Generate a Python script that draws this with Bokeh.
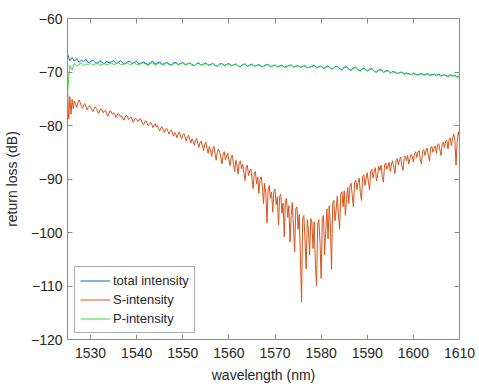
from bokeh.plotting import figure
from bokeh.models import LinearAxis, Range1d, FixedTicker, Legend, LegendItem
from bokeh.embed import file_html
from bokeh.resources import INLINE

# wavelength grid (nm), 0.5 nm steps from 1525 to 1610 (total / P)
wavelength = [1525.0 + 0.5 * i for i in range(171)]
# finer grid (0.25 nm) for the noisier S trace
wavelength_s = [1525.0 + 0.25 * i for i in range(341)]

s_intensity = [
    -73.2, -78.8, -74.6, -77.9, -75.1, -76.9, -75.4, -75.9, -76.6, -75.8, -75.2, -75.7, -76.4, -76.8, -76.1, -75.9, -76.5, -77.1, -76.6, -76.3,
    -76.5, -77.0, -77.4, -76.9, -76.5, -76.8, -77.3, -77.8, -77.2, -76.9, -77.0, -77.6, -77.3, -77.1, -77.8, -78.3, -77.7, -77.2, -77.5, -77.9,
    -77.6, -77.9, -78.5, -78.1, -77.7, -77.9, -78.4, -78.2, -78.6, -79.0, -78.4, -78.1, -78.3, -78.9, -78.7, -78.4, -78.8, -79.4, -79.0, -78.6,
    -78.8, -79.3, -79.1, -78.7, -79.0, -79.6, -79.9, -79.3, -79.1, -79.5, -80.1, -79.8, -79.4, -79.7, -80.4, -80.0, -79.7, -80.3, -80.0, -80.6,
    -81.0, -80.4, -80.2, -80.8, -81.3, -80.7, -80.5, -81.0, -81.6, -81.1, -80.8, -81.4, -82.0, -81.3, -81.7, -82.3, -81.6, -81.2, -81.9, -82.5,
    -81.8, -81.5, -82.2, -82.9, -82.1, -81.8, -82.6, -83.3, -82.5, -82.9, -83.7, -82.8, -82.4, -83.3, -84.1, -83.2, -82.9, -83.8, -84.7, -83.6,
    -83.1, -84.3, -85.2, -83.9, -84.6, -85.8, -84.5, -83.9, -85.3, -86.5, -84.9, -84.4, -85.1, -86.0, -87.2, -85.3, -84.9, -86.4, -85.7, -85.2,
    -86.4, -87.5, -85.9, -85.5, -87.3, -88.6, -86.5, -87.4, -89.1, -86.9, -86.6, -88.1, -87.3, -88.9, -90.3, -87.8, -87.4, -89.4, -88.5, -88.1,
    -89.9, -91.8, -88.9, -88.6, -90.9, -89.6, -92.7, -90.1, -89.6, -91.4, -94.6, -90.8, -92.6, -98.2, -92.0, -91.2, -93.6, -92.4, -96.2, -92.3,
    -91.9, -94.8, -93.3, -98.6, -93.2, -92.8, -96.4, -94.5, -100.8, -94.0, -93.6, -97.2, -95.0, -101.8, -96.8, -94.4, -99.0, -103.6, -95.6, -95.2,
    -99.4, -96.6, -104.6, -113.0, -97.2, -96.8, -101.4, -106.8, -97.6, -99.6, -104.2, -97.4, -98.2, -103.0, -98.0, -106.0, -110.0, -98.4, -97.6, -101.8,
    -108.6, -97.4, -96.8, -104.2, -99.6, -95.6, -101.2, -95.0, -98.4, -106.9, -94.6, -94.0, -97.8, -95.8, -93.2, -96.6, -99.4, -92.8, -92.4, -95.2,
    -92.2, -96.8, -93.8, -91.6, -94.6, -91.2, -90.8, -93.2, -95.2, -90.6, -90.2, -92.0, -90.6, -89.8, -92.6, -94.0, -89.6, -89.2, -91.2, -90.0,
    -88.8, -90.6, -92.0, -88.6, -88.2, -89.8, -88.6, -87.9, -90.4, -89.2, -87.6, -88.4, -87.4, -89.6, -90.6, -87.4, -87.0, -88.2, -87.6, -86.9,
    -88.6, -87.2, -86.6, -87.8, -89.0, -86.5, -86.2, -87.4, -86.4, -85.9, -87.6, -88.4, -86.0, -85.7, -86.6, -85.6, -87.2, -86.2, -85.4, -85.8,
    -86.8, -85.2, -84.9, -86.0, -85.0, -84.7, -86.4, -87.2, -84.8, -84.5, -85.6, -84.6, -84.2, -85.8, -86.6, -84.2, -83.9, -85.0, -84.2, -83.8,
    -85.2, -83.6, -83.4, -84.6, -85.6, -83.4, -83.1, -84.2, -83.0, -82.7, -84.4, -82.6, -82.3, -83.8, -82.4, -81.6, -82.8, -87.4, -83.0, -81.2,
    -82.2,
]

total_intensity = [
    -66.6, -67.9, -67.3, -68.0, -67.5, -68.2, -67.8, -68.1, -67.6, -68.3,
    -68.0, -67.8, -68.2, -68.4, -67.9, -68.2, -68.5, -68.0, -68.3, -68.1,
    -67.9, -68.4, -68.2, -67.9, -68.3, -68.5, -68.1, -68.0, -68.4, -68.2,
    -68.0, -68.5, -68.3, -68.1, -68.4, -68.6, -68.2, -68.0, -68.5, -68.3,
    -68.1, -68.6, -68.4, -68.2, -68.5, -68.7, -68.3, -68.2, -68.6, -68.4,
    -68.2, -68.6, -68.5, -68.3, -68.6, -68.8, -68.4, -68.3, -68.7, -68.5,
    -68.3, -68.7, -68.6, -68.4, -68.8, -68.9, -68.5, -68.4, -68.8, -68.6,
    -68.4, -68.8, -68.7, -68.5, -68.9, -69.0, -68.6, -68.5, -68.9, -68.7,
    -68.5, -68.9, -68.8, -68.6, -68.9, -69.0, -68.7, -68.6, -69.0, -68.8,
    -68.7, -69.0, -68.9, -68.7, -69.1, -69.0, -68.8, -68.7, -69.1, -68.9,
    -68.8, -69.1, -69.0, -68.8, -69.2, -69.1, -68.9, -68.7, -69.2, -69.0,
    -68.9, -69.3, -69.1, -68.8, -69.3, -69.5, -69.0, -68.9, -69.4, -69.6,
    -69.1, -69.0, -69.5, -69.7, -69.2, -69.1, -69.6, -69.8, -69.3, -69.4,
    -69.8, -69.5, -69.3, -69.9, -70.0, -69.6, -69.5, -70.1, -69.8, -69.7,
    -70.2, -69.9, -70.0, -70.3, -70.1, -70.0, -70.4, -70.2, -70.3, -70.5,
    -70.2, -70.4, -70.6, -70.3, -70.4, -70.5, -70.3, -70.6, -70.5, -70.4,
    -70.6, -70.4, -70.7, -70.5, -70.6, -70.8, -70.5, -70.7, -70.6, -70.9,
    -70.7,
]

p_intensity = [
    -73.8, -68.8, -69.6, -68.4, -68.9, -68.6, -68.3, -68.8, -68.5, -68.6,
    -68.4, -68.7, -68.5, -68.3, -68.8, -68.6, -68.4, -68.7, -68.5, -68.3,
    -68.6, -68.5, -68.2, -68.6, -68.7, -68.4, -68.3, -68.7, -68.5, -68.3,
    -68.6, -68.7, -68.4, -68.3, -68.6, -68.8, -68.4, -68.3, -68.7, -68.5,
    -68.3, -68.7, -68.6, -68.3, -68.6, -68.8, -68.5, -68.3, -68.7, -68.5,
    -68.3, -68.7, -68.5, -68.4, -68.7, -68.8, -68.5, -68.4, -68.7, -68.6,
    -68.4, -68.7, -68.7, -68.4, -68.8, -68.9, -68.6, -68.4, -68.9, -68.6,
    -68.5, -68.8, -68.8, -68.5, -68.9, -69.0, -68.7, -68.5, -68.9, -68.8,
    -68.6, -68.9, -68.8, -68.7, -69.0, -69.0, -68.7, -68.6, -69.0, -68.9,
    -68.7, -69.1, -68.9, -68.8, -69.1, -69.1, -68.8, -68.7, -69.1, -69.0,
    -68.8, -69.2, -69.0, -68.9, -69.2, -69.1, -69.0, -68.8, -69.2, -69.1,
    -68.9, -69.3, -69.2, -68.9, -69.3, -69.5, -69.1, -69.0, -69.4, -69.6,
    -69.2, -69.1, -69.5, -69.7, -69.3, -69.2, -69.6, -69.8, -69.4, -69.5,
    -69.8, -69.6, -69.4, -69.9, -70.0, -69.7, -69.6, -70.1, -69.9, -69.8,
    -70.2, -70.0, -70.1, -70.3, -70.2, -70.1, -70.4, -70.3, -70.4, -70.5,
    -70.3, -70.5, -70.6, -70.4, -70.5, -70.6, -70.4, -70.7, -70.6, -70.5,
    -70.7, -70.5, -70.8, -70.6, -70.7, -70.9, -70.6, -70.8, -70.7, -71.0,
    -70.8,
]

x_ticks = [1530, 1540, 1550, 1560, 1570, 1580, 1590, 1600, 1610]
y_ticks = [-120, -110, -100, -90, -80, -70, -60]

FONT = "Liberation Sans"
TXT = "#262626"
AX = "#8c8c8c"

p = figure(width=479, height=389, output_backend="svg", toolbar_location=None,
           x_range=Range1d(1525, 1610), y_range=Range1d(-120, -60),
           min_border_left=65, min_border_right=20, min_border_top=18,
           min_border_bottom=50, background_fill_color="white",
           border_fill_color="white", outline_line_color=None)
p.grid.visible = False

l_total = p.line(wavelength, total_intensity, color="#0072BD", line_width=1)
l_s = p.line(wavelength_s, s_intensity, color="#D95319", line_width=1)
l_p = p.line(wavelength, p_intensity, color="#3DDC3D", line_width=1)

def style(ax, labels=True):
    ax.axis_line_color = AX
    ax.major_tick_line_color = AX
    ax.major_tick_in = 5
    ax.major_tick_out = 0
    ax.minor_tick_line_color = None
    ax.major_label_text_font = FONT
    ax.major_label_text_font_size = "14px"
    ax.major_label_text_color = TXT
    ax.axis_label_text_font = FONT
    ax.axis_label_text_font_size = "14px"
    ax.axis_label_text_font_style = "normal"
    ax.axis_label_text_color = TXT
    if not labels:
        ax.major_label_text_font_size = "0px"
        ax.major_label_text_color = None

xa = p.xaxis[0]
xa.ticker = FixedTicker(ticks=x_ticks)
xa.axis_label = "wavelength (nm)"
style(xa)
xa.major_label_standoff = 8
xa.axis_label_standoff = 6

ya = p.yaxis[0]
ya.ticker = FixedTicker(ticks=y_ticks)
ya.axis_label = "return loss (dB)"
style(ya)
ya.major_label_standoff = 5
ya.axis_label_standoff = 8

top = LinearAxis(ticker=FixedTicker(ticks=x_ticks))
style(top, labels=False)
p.add_layout(top, "above")
right = LinearAxis(ticker=FixedTicker(ticks=y_ticks))
style(right, labels=False)
p.add_layout(right, "right")

legend = Legend(items=[LegendItem(label="total intensity", renderers=[l_total]),
                       LegendItem(label="S-intensity", renderers=[l_s]),
                       LegendItem(label="P-intensity", renderers=[l_p])],
                location=(7, 6))
legend.label_text_font = FONT
legend.label_text_font_size = "13px"
legend.label_text_color = TXT
legend.glyph_width = 30
legend.glyph_height = 17
legend.label_height = 17
legend.label_standoff = 3
legend.spacing = 2
legend.padding = 5
legend.margin = 0
legend.border_line_color = "#595959"
legend.border_line_width = 1
legend.background_fill_color = "white"
p.add_layout(legend, "center")

open("out.html", "w").write(file_html(p, INLINE))
